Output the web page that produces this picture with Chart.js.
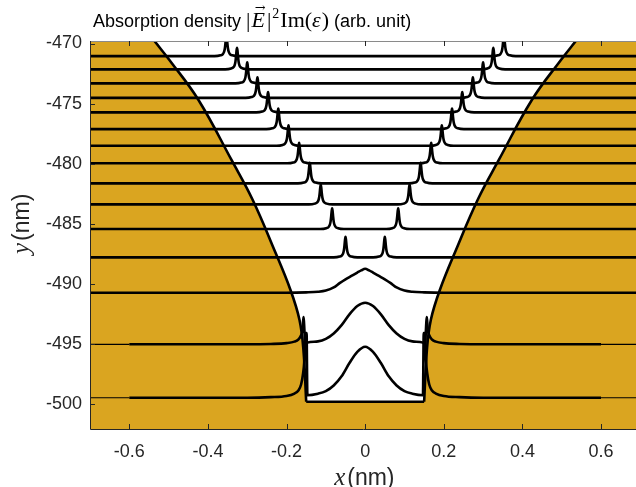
<!DOCTYPE html>
<html><head><meta charset="utf-8">
<script src="https://cdn.jsdelivr.net/npm/chart.js@4"></script>
<style>html,body{margin:0;padding:0;overflow:hidden;background:#fff}#wrap{width:636px;height:487px;position:relative}</style>
</head><body><div id="wrap"><canvas id="c"></canvas></div>
<script>
// ---- axis ranges / ticks ----
const xRange = [-0.7, 0.689];
const yRange = [-502.08, -469.79];
const xTickStep = 0.2;
const yTickStep = 5;

// ---- gold boundary (left side; right side mirrored) ----
const edgeY = [-469.79,-471.37,-474.70,-479.69,-483.02,-487.18,-490.51,-493.01,-495.51,-499.81];
const edgeX = [-0.536,-0.498,-0.424,-0.340,-0.286,-0.231,-0.190,-0.167,-0.157,-0.150];

// ---- absorption-density curves: baselines ----
const lineBase = [-471.05,-472.15,-473.32,-474.52,-475.73,-477.12,-478.51,-479.97,-481.64,-483.39,-485.44,-487.80,-490.74,-495.03,-499.48];
// sharp twin peaks of the upper 12 curves (±position, height)
const peakPos = [0.353,0.326,0.300,0.274,0.247,0.221,0.195,0.168,0.141,0.113,0.084,0.050];
const peakH   = [1.75,1.80,1.75,1.70,1.70,1.70,1.70,1.70,1.72,1.65,1.72,1.71];
// sharp peak profile (offset, fraction of height)
const spikeDx   = [-0.03,-0.015,-0.009,-0.006,-0.004,-0.0025,-0.0012,0,0.0012,0.0025,0.004,0.006,0.009,0.015,0.03];
const spikeFrac = [0,0.04,0.10,0.20,0.36,0.60,0.86,1,0.86,0.60,0.36,0.20,0.10,0.04,0];
// broad central peak of curve 13 (half profile)
const bump13Dx   = [0,0.01,0.02,0.035,0.05,0.065,0.08,0.10,0.12,0.15,0.20];
const bump13Frac = [1,0.93,0.84,0.70,0.56,0.40,0.22,0.09,0.04,0.015,0];
const bump13H = 2.0;
// curve 14: inside-gap peak and outside wall spike
const in14Dx   = [0,0.02,0.04,0.06,0.08,0.10,0.12,0.147];
const in14Frac = [1,0.92,0.72,0.46,0.26,0.13,0.07,0.04];
const in14H = 3.46;
const out14X   = [0.152,0.157,0.159,0.163,0.170,0.180,0.200,0.240,0.300,0.600];
const out14Up  = [0,2.27,1.30,0.75,0.40,0.22,0.10,0.03,0,0];
// curve 15: inside-gap peak and outside wall spike
const in15Dx   = [0,0.02,0.04,0.06,0.08,0.10,0.12,0.147];
const in15Frac = [1,0.90,0.68,0.42,0.24,0.13,0.08,0.05];
const in15H = 4.25;
const out15X   = [0.149,0.152,0.155,0.158,0.163,0.170,0.180,0.200,0.240,0.300,0.600];
const out15Up  = [5.38,5.38,3.0,2.0,1.1,0.6,0.35,0.15,0.05,0,0];

const GOLD = '#DAA520';
const INK = '#262626';

function spikeCurve(base, pos, h) {
  const pts = [{x:-0.7, y:base}];
  for (const c of [-pos, pos]) {
    for (let i = 0; i < spikeDx.length; i++) pts.push({x: c + spikeDx[i], y: base + h * spikeFrac[i]});
  }
  pts.push({x:0.7, y:base});
  return pts;
}
function symBump(dx, frac, h, base) {
  const pts = [];
  for (let i = dx.length - 1; i > 0; i--) pts.push({x: -dx[i], y: base + h * frac[i]});
  for (let i = 0; i < dx.length; i++) pts.push({x: dx[i], y: base + h * frac[i]});
  return pts;
}
function gapCurve(base, outX, outUp, inDx, inFrac, inH) {
  const pts = [];
  for (let i = outX.length - 1; i >= 0; i--) pts.push({x: -outX[i], y: base + outUp[i]});
  pts.push(...symBump(inDx, inFrac, inH, base));
  for (let i = 0; i < outX.length; i++) pts.push({x: outX[i], y: base + outUp[i]});
  return pts;
}

const leftEdge = edgeX.map((v, i) => ({x: v, y: edgeY[i]}));
const rightEdge = edgeX.map((v, i) => ({x: -v, y: edgeY[i]}));
const last = edgeX.length - 1;
// white (non-gold) region: left edge down, across the gap floor, right edge up
const whiteRegion = [...leftEdge, leftEdge[last], rightEdge[last], ...rightEdge.slice().reverse()];

const lineDs = (pts, w) => ({data: pts, borderColor: '#000', borderWidth: w || 2.6, pointRadius: 0,
  fill: false, cubicInterpolationMode: 'monotone', order: 1});
const edgeDs = (pts, t) => ({data: pts, borderColor: '#000', borderWidth: 2.6, pointRadius: 0,
  fill: false, tension: t, order: 0});

const datasets = [];
datasets.push({data: whiteRegion, fill: 'shape', backgroundColor: '#fff', borderWidth: 0, pointRadius: 0, tension: 0.4, order: 5});
for (let i = 0; i < peakPos.length; i++) datasets.push(lineDs(spikeCurve(lineBase[i], peakPos[i], peakH[i])));
datasets.push(lineDs([{x:-0.7, y:lineBase[12]}, ...symBump(bump13Dx, bump13Frac, bump13H, lineBase[12]), {x:0.7, y:lineBase[12]}]));
datasets.push(lineDs(gapCurve(lineBase[13], out14X, out14Up, in14Dx, in14Frac, in14H)));
datasets.push(lineDs(gapCurve(lineBase[14], out15X, out15Up, in15Dx, in15Frac, in15H)));
for (const b of [lineBase[13], lineBase[14]]) {
  datasets.push(lineDs([{x:-0.7, y:b}, {x:-0.6, y:b}], 1.2));
  datasets.push(lineDs([{x:0.6, y:b}, {x:0.7, y:b}], 1.2));
}
datasets.push(edgeDs(leftEdge, 0.4));
datasets.push(edgeDs(rightEdge, 0.4));
datasets.push(edgeDs([leftEdge[last], rightEdge[last]], 0));

function runs(ctx, x, y, list) {
  for (const r of list) {
    ctx.font = r.f;
    ctx.fillText(r.t, x, y + (r.dy || 0));
    const w = ctx.measureText(r.t).width;
    if (r.arrow) {
      ctx.font = '13px "DejaVu Serif"';
      const aw = ctx.measureText('\u2192').width;
      ctx.fillText('\u2192', x + w / 2 - aw / 2 + 2, y - 15);
    }
    x += w + (r.gap || 0);
  }
  return x;
}

const decor = {
  id: 'decor',
  beforeDraw(chart) {
    const {ctx, chartArea: a} = chart;
    ctx.save();
    ctx.fillStyle = GOLD;
    ctx.fillRect(a.left, a.top, a.right - a.left, a.bottom - a.top);
    ctx.restore();
  },
  afterDraw(chart) {
    const {ctx, chartArea: a, scales: {x, y}} = chart;
    ctx.save();
    ctx.lineWidth = 1;
    ctx.strokeStyle = '#8a8a8a';
    ctx.beginPath(); ctx.moveTo(a.left, a.top + 0.5); ctx.lineTo(a.right, a.top + 0.5); ctx.stroke();
    ctx.strokeStyle = INK;
    ctx.beginPath();
    ctx.moveTo(a.left + 0.5, a.top); ctx.lineTo(a.left + 0.5, a.bottom + 0.5); ctx.lineTo(a.right, a.bottom + 0.5);
    for (const t of x.ticks) {
      const px = Math.round(x.getPixelForValue(t.value)) + 0.5;
      ctx.moveTo(px, a.bottom); ctx.lineTo(px, a.bottom - 5);
      ctx.moveTo(px, a.top); ctx.lineTo(px, a.top + 5);
    }
    for (const t of y.ticks) {
      const py = Math.round(y.getPixelForValue(t.value)) + 0.5;
      ctx.moveTo(a.left, py); ctx.lineTo(a.left + 5, py);
    }
    ctx.stroke();
    // title
    ctx.fillStyle = '#000';
    ctx.textBaseline = 'alphabetic';
    ctx.textAlign = 'left';
    runs(ctx, 93, 27, [
      {t: 'Absorption density ', f: '18px "Liberation Sans"'},
      {t: '|', f: '22px "Liberation Serif"', gap: 1},
      {t: 'E', f: 'italic 22px "Liberation Serif"', arrow: true, gap: 2},
      {t: '|', f: '22px "Liberation Serif"', gap: 1},
      {t: '2', f: '14px "Liberation Serif"', dy: -9, gap: 1},
      {t: 'Im(', f: '22px "Liberation Serif"'},
      {t: '\u03B5', f: 'italic 22px "Liberation Serif"', gap: 1},
      {t: ')', f: '22px "Liberation Serif"'},
      {t: ' (arb. unit)', f: '18px "Liberation Sans"'}
    ]);
    // x axis title
    ctx.fillStyle = INK;
    const cx = x.getPixelForValue(0);
    runs(ctx, cx - 31, 485, [
      {t: 'x', f: 'italic 25px "Liberation Serif"', gap: 2},
      {t: '(nm)', f: '23px "Liberation Sans"'}
    ]);
    // y axis title
    ctx.translate(29, 254);
    ctx.rotate(-Math.PI / 2);
    runs(ctx, 0, 0, [
      {t: 'y', f: 'italic 25px "Liberation Serif"', gap: 2},
      {t: '(nm)', f: '23px "Liberation Sans"'}
    ]);
    ctx.restore();
  }
};

new Chart(document.getElementById('c'), {
  type: 'line',
  data: {datasets},
  options: {
    responsive: true, maintainAspectRatio: false, animation: false, devicePixelRatio: 1,
    layout: {padding: {top: 41, left: 0, right: 0, bottom: 0}},
    plugins: {legend: {display: false}, tooltip: {enabled: false}, title: {display: false}},
    events: [],
    scales: {
      x: {
        type: 'linear', min: xRange[0], max: xRange[1],
        afterFit(s) { s.height = 58; },
        grid: {display: false, drawTicks: false}, border: {display: false},
        ticks: {stepSize: xTickStep, includeBounds: false, padding: 12, color: INK,
          font: {family: 'Liberation Sans', size: 18}}
      },
      y: {
        type: 'linear', min: yRange[0], max: yRange[1],
        afterFit(s) { s.width = 90; },
        grid: {display: false, drawTicks: false}, border: {display: false},
        ticks: {stepSize: yTickStep, includeBounds: false, padding: 8, color: INK,
          font: {family: 'Liberation Sans', size: 18}}
      }
    }
  },
  plugins: [decor]
});
</script></body></html>
